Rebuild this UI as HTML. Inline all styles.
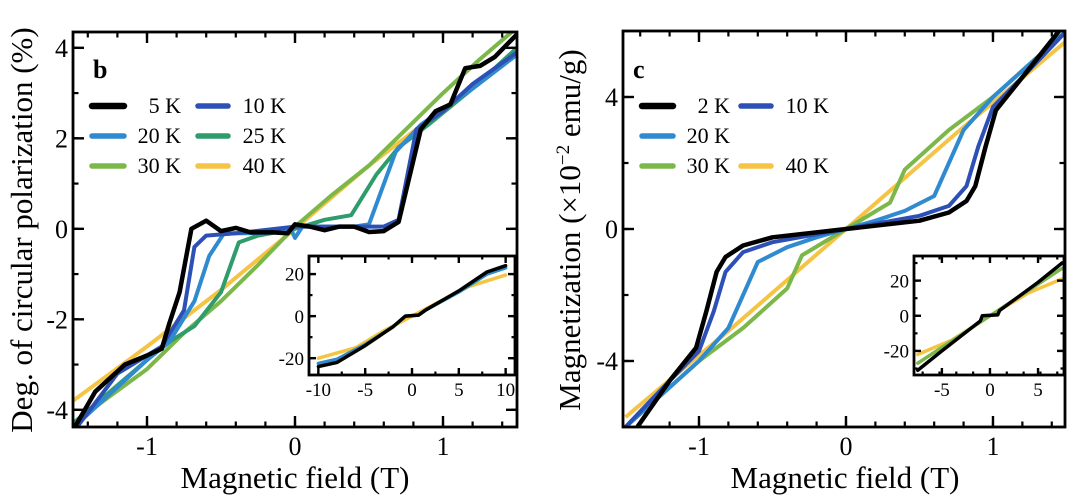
<!DOCTYPE html>
<html><head><meta charset="utf-8"><style>
body{margin:0;background:#fff}
svg{display:block}
svg text{font-family:"Liberation Serif","DejaVu Serif",serif}
</style></head><body>
<svg id="fig" width="1073" height="500" viewBox="0 0 1073 500" font-family="Liberation Serif, DejaVu Serif, serif">
<text x="32" y="230" transform="rotate(-90 32 230)" text-anchor="middle" font-size="31">Deg. of circular polarization (%)</text>
<text x="295" y="488" text-anchor="middle" font-size="31">Magnetic field (T)</text>
<text x="580" y="230" transform="rotate(-90 580 230)" text-anchor="middle" font-size="31">Magnetization (×10<tspan dy="-11" font-size="19">−2</tspan><tspan dy="11"> emu/g)</tspan></text>
<text x="845" y="488" text-anchor="middle" font-size="31">Magnetic field (T)</text>
<text x="93" y="78" font-size="26" font-weight="bold">b</text>
<text x="633" y="78" font-size="26" font-weight="bold">c</text>
</svg>
<script>
const COLORS={k5:'#000000',k2:'#000000',k10:'#2c50b5',k20:'#2f8ad0',k25:'#2f9c6c',k30:'#7cb74a',k40:'#f6c444'};
// Panel b data
const bX5=[-1.5,-1.35,-1.15,-1.0,-0.9,-0.85,-0.78,-0.7,-0.6,-0.5,-0.4,-0.3,-0.15,-0.05,0.0,0.1,0.2,0.3,0.4,0.5,0.6,0.7,0.85,0.95,1.05,1.15,1.25,1.35,1.5];
const bY5=[-4.45,-3.6,-3.0,-2.8,-2.65,-2.1,-1.4,0.0,0.18,-0.05,0.02,-0.08,-0.08,-0.1,0.1,0.05,-0.03,0.05,0.05,-0.07,-0.05,0.15,2.2,2.6,2.75,3.55,3.6,3.8,4.3];
const bX10=[-1.5,-1.2,-0.9,-0.75,-0.68,-0.6,-0.4,0,0.4,0.6,0.7,0.82,1.0,1.2,1.5];
const bY10=[-4.5,-3.2,-2.6,-1.8,-0.4,-0.15,-0.1,0.05,0.05,0.05,0.2,2.2,2.6,3.2,3.9];
const bX20=[-1.5,-1.0,-0.85,-0.68,-0.58,-0.48,-0.2,-0.03,0.0,0.05,0.4,0.5,0.68,0.85,1.2,1.5];
const bY20=[-4.4,-2.9,-2.5,-1.6,-0.6,-0.1,-0.1,0.0,-0.2,0.05,0.05,0.1,1.7,2.3,3.1,3.85];
const bX25=[-1.5,-1.0,-0.85,-0.68,-0.5,-0.38,-0.25,0.0,0.2,0.38,0.55,0.7,0.9,1.2,1.5];
const bY25=[-4.3,-2.9,-2.5,-2.15,-1.4,-0.3,-0.15,0.0,0.2,0.3,1.2,1.8,2.3,3.1,4.0];
const bX30=[-1.5,-1.25,-1.0,-0.75,-0.5,-0.25,0,0.25,0.5,0.75,1.0,1.25,1.5];
const bY30=[-4.3,-3.7,-3.1,-2.3,-1.6,-0.8,0.05,0.75,1.4,2.2,3.0,3.75,4.45];
const bX40=[-1.5,-1.0,-0.5,0,0.5,1.0,1.5];
const bY40=[-3.8,-2.6,-1.35,0.0,1.4,2.65,3.85];
// Panel b inset
const biX=[-10,-8,-5,-2,-0.7,0.7,1.5,5,8,10];
const biYk=[-24,-22,-14,-5,0,0.5,3,12,21,24];
const biY20=[-22.5,-20.5,-13.5,-5,0,0.5,3,11.5,20,23];
const biX40=[-10,-6,-3,0,3,6,10];
const biY40=[-20,-15,-7,0,7,14,19.5];
// Panel c data
const cX2=[-1.42,-1.2,-1.02,-0.95,-0.88,-0.82,-0.7,-0.5,-0.2,0,0.2,0.5,0.7,0.82,0.88,0.95,1.02,1.2,1.45];
const cY2=[-6,-4.6,-3.6,-2.5,-1.3,-0.85,-0.5,-0.25,-0.1,0,0.1,0.25,0.5,0.85,1.3,2.5,3.6,4.6,6];
const cX10=[-1.5,-1.2,-1.0,-0.9,-0.82,-0.7,-0.5,0,0.5,0.7,0.82,0.9,1.0,1.2,1.5];
const cY10=[-6,-4.6,-3.7,-2.5,-1.3,-0.7,-0.4,0,0.4,0.7,1.3,2.5,3.7,4.6,6];
const cX20=[-1.5,-1.0,-0.8,-0.7,-0.6,-0.4,-0.2,0,0.2,0.4,0.6,0.7,0.8,1.0,1.5];
const cY20=[-6,-4.0,-3.0,-2.0,-1.0,-0.55,-0.25,0,0.25,0.55,1.0,2.0,3.0,4.0,6.0];
const cX30=[-1.5,-1.0,-0.7,-0.4,-0.3,0,0.3,0.4,0.7,1.0,1.5];
const cY30=[-6,-4.0,-3.0,-1.8,-0.8,0,0.8,1.8,3.0,4.0,6];
const cX40=[-1.5,-0.75,0,0.75,1.5];
const cY40=[-5.7,-2.9,0,2.9,5.7];
// Panel c inset
const ciX=[-7.5,-5,-1,-0.8,0.8,1,5,7.5];
const ciYk=[-31,-20,-3,0,0.5,3,19,30];
const ciX30=[-7.5,0,7.5];
const ciY30=[-27,0,27];
const ciX40=[-7.5,-4,0,4,7.5];
const ciY40=[-22,-14,0,13,21];
// Ticks
const bXticks=[-1,0,1], bYticks=[-4,-2,0,2,4];
const cXticks=[-1,0,1], cYticks=[-4,0,4];
const biXticks=[-10,-5,0,5,10], biYticks=[-20,0,20];
const ciXticks=[-5,0,5], ciYticks=[-20,0,20];

const NS='http://www.w3.org/2000/svg';
const svg=document.getElementById('fig');
function mk(tag,attrs,parent){const e=document.createElementNS(NS,tag);for(const k in attrs)e.setAttribute(k,attrs[k]);(parent||svg).appendChild(e);return e;}
function axes(x0,x1,y0,y1,px0,px1,py0,py1){
  return {sx:v=>px0+(v-x0)/(x1-x0)*(px1-px0),sy:v=>py1-(v-y0)/(y1-y0)*(py1-py0),px0,px1,py0,py1};
}
function line(ax,xs,ys,color,w,name){
  const d=xs.map((x,i)=>(i?'L':'M')+ax.sx(x).toFixed(1)+' '+ax.sy(ys[i]).toFixed(1)).join(' ');
  const p=mk('path',{d,fill:'none',stroke:color,'stroke-width':w,'stroke-linejoin':'round','stroke-linecap':'round'});
  
  
}
function frame(ax,xt,yt,xminor,yminor,fs,tl,name){
  const g=mk('g',{});
  
  
  mk('rect',{x:ax.px0,y:ax.py0,width:ax.px1-ax.px0,height:ax.py1-ax.py0,fill:'none',stroke:'#000','stroke-width':2.8},g);
  xminor.forEach(v=>{const x=ax.sx(v);mk('line',{x1:x,x2:x,y1:ax.py1,y2:ax.py1-tl/2,stroke:'#000','stroke-width':2.2},g);mk('line',{x1:x,x2:x,y1:ax.py0,y2:ax.py0+tl/2,stroke:'#000','stroke-width':2.2},g);});
  yminor.forEach(v=>{const y=ax.sy(v);mk('line',{x1:ax.px0,x2:ax.px0+tl/2,y1:y,y2:y,stroke:'#000','stroke-width':2.2},g);mk('line',{x1:ax.px1,x2:ax.px1-tl/2,y1:y,y2:y,stroke:'#000','stroke-width':2.2},g);});
  xt.forEach(v=>{const x=ax.sx(v);mk('line',{x1:x,x2:x,y1:ax.py1,y2:ax.py1-tl,stroke:'#000','stroke-width':2.4},g);mk('line',{x1:x,x2:x,y1:ax.py0,y2:ax.py0+tl,stroke:'#000','stroke-width':2.4},g);
    const t=mk('text',{x,y:ax.py1+fs+2,'text-anchor':'middle','font-size':fs},g);t.textContent=v<0?'-'+Math.abs(v):String(v);});
  yt.forEach(v=>{const y=ax.sy(v);mk('line',{x1:ax.px0,x2:ax.px0+tl,y1:y,y2:y,stroke:'#000','stroke-width':2.4},g);mk('line',{x1:ax.px1,x2:ax.px1-tl,y1:y,y2:y,stroke:'#000','stroke-width':2.4},g);
    const t=mk('text',{x:ax.px0-5,y:y+fs*0.35,'text-anchor':'end','font-size':fs},g);t.textContent=v<0?'-'+Math.abs(v):String(v);});
}
function range(a,b,s){const r=[];for(let v=a;v<=b+1e-9;v+=s)r.push(+v.toFixed(3));return r;}
function legend(entries,x1s,x2s,txs,ys){
  entries.forEach((e,i)=>{
    const g=mk('g',{});
    
    
    mk('line',{x1:x1s[e[2]],x2:x2s[e[2]],y1:ys[e[3]],y2:ys[e[3]],stroke:e[1],'stroke-width':e[1]==='#000000'?6.5:5.5,'stroke-linecap':'round'},g);
    const t=mk('text',{x:txs[e[2]],y:ys[e[3]]+7,'text-anchor':'end','font-size':22},g);t.textContent=e[0];
  });
}
// Panel b
const axB=axes(-1.5,1.5,-4.38,4.35,73,517,32,427);
const clipB=mk('clipPath',{id:'cb'});mk('rect',{x:73,y:32,width:444,height:395},clipB);
const gB=mk('g',{'clip-path':'url(#cb)'});
[[bX40,bY40,COLORS.k40,'line-40k'],[bX30,bY30,COLORS.k30,'line-30k'],[bX25,bY25,COLORS.k25,'line-25k'],[bX20,bY20,COLORS.k20,'line-20k'],[bX10,bY10,COLORS.k10,'line-10k'],[bX5,bY5,COLORS.k5,'line-5k']].forEach(s=>{
  const d=s[0].map((x,i)=>(i?'L':'M')+axB.sx(x).toFixed(1)+' '+axB.sy(s[1][i]).toFixed(1)).join(' ');
  const p=mk('path',{d,fill:'none',stroke:s[2],'stroke-width':s[2]==='#000000'?4.5:4,'stroke-linejoin':'round'},gB);
  
  
});
frame(axB,bXticks,bYticks,range(-1.4,1.4,0.2),range(-4,4,1),26,11,'panel-b-axes');
legend([['5 K',COLORS.k5,0,0],['10 K',COLORS.k10,1,0],['20 K',COLORS.k20,0,1],['25 K',COLORS.k25,1,1],['30 K',COLORS.k30,0,2],['40 K',COLORS.k40,1,2]],[92,198],[124,228],[181,286],[106,136,166]);
// Inset b
mk('rect',{x:309,y:256,width:206,height:119,fill:'#fff'});
const axBi=axes(-11,11,-28,28.6,309,515,256,375);
line(axBi,biX40,biY40,COLORS.k40,3.5,'b-inset-40k');
line(axBi,biX,biY20,COLORS.k25,3.5,'b-inset-25k');
line(axBi,biX,biY20,COLORS.k20,3,'b-inset-20k');
line(axBi,biX,biYk,COLORS.k5,3.5,'b-inset-5k');
frame(axBi,biXticks,biYticks,range(-10,10,2.5),range(-20,20,10),19,7,'panel-b-inset-axes');
// Panel c
const axC=axes(-1.517,1.49,-6,6,623,1065,31,427);
const clipC=mk('clipPath',{id:'cc'});mk('rect',{x:623,y:31,width:442,height:396},clipC);
const gC=mk('g',{'clip-path':'url(#cc)'});
[[cX40,cY40,COLORS.k40,'line-40k'],[cX30,cY30,COLORS.k30,'line-30k'],[cX20,cY20,COLORS.k20,'line-20k'],[cX10,cY10,COLORS.k10,'line-10k'],[cX2,cY2,COLORS.k2,'line-2k']].forEach(s=>{
  const d=s[0].map((x,i)=>(i?'L':'M')+axC.sx(x).toFixed(1)+' '+axC.sy(s[1][i]).toFixed(1)).join(' ');
  const p=mk('path',{d,fill:'none',stroke:s[2],'stroke-width':s[2]==='#000000'?4.5:4,'stroke-linejoin':'round'},gC);
  
  
});
frame(axC,cXticks,cYticks,range(-1.4,1.4,0.2),range(-6,6,2),26,11,'panel-c-axes');
legend([['2 K',COLORS.k2,0,0],['10 K',COLORS.k10,1,0],['20 K',COLORS.k20,0,1],['30 K',COLORS.k30,0,2],['40 K',COLORS.k40,1,2]],[642,741],[673,771],[730,829],[106,136,166]);
// Inset c
mk('rect',{x:914,y:256,width:150,height:119,fill:'#fff'});
const axCi=axes(-7.9,7.7,-33.7,34,914,1064,256,375);
line(axCi,ciX40,ciY40,COLORS.k40,3.5,'c-inset-40k');
line(axCi,ciX30,ciY30,COLORS.k30,3.5,'c-inset-30k');
line(axCi,ciX,ciYk,COLORS.k2,3.5,'c-inset-2k');
frame(axCi,ciXticks,ciYticks,range(-7,7,1.75),range(-30,30,10),19,7,'panel-c-inset-axes');
</script>
</body></html>
